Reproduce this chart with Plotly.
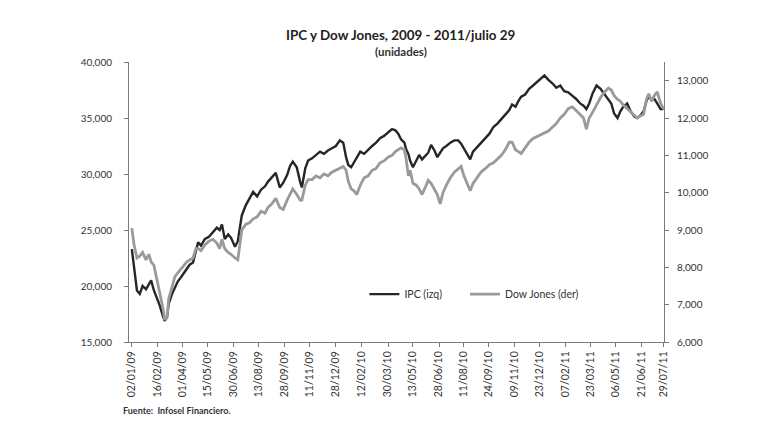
import plotly.graph_objects as go

# ---- data ----
fechas = [
    "2009-01-02", "2009-01-06", "2009-01-11", "2009-01-16", "2009-01-21", "2009-01-27", "2009-02-01",
    "2009-02-05", "2009-02-10", "2009-02-15", "2009-02-20", "2009-02-26", "2009-03-01", "2009-03-05",
    "2009-03-08", "2009-03-14", "2009-03-19", "2009-03-24", "2009-03-30", "2009-04-04", "2009-04-09",
    "2009-04-14", "2009-04-20", "2009-04-25", "2009-04-29", "2009-05-04", "2009-05-11", "2009-05-18",
    "2009-05-25", "2009-06-01", "2009-06-06", "2009-06-10", "2009-06-15", "2009-06-21", "2009-06-26",
    "2009-07-03", "2009-07-08", "2009-07-15", "2009-07-22", "2009-07-29", "2009-08-04", "2009-08-11",
    "2009-08-18", "2009-08-25", "2009-08-30", "2009-09-06", "2009-09-13", "2009-09-20", "2009-09-26",
    "2009-10-03", "2009-10-08", "2009-10-13", "2009-10-20", "2009-10-26", "2009-10-29", "2009-11-04",
    "2009-11-09", "2009-11-16", "2009-11-23", "2009-11-30", "2009-12-07", "2009-12-14", "2009-12-21",
    "2009-12-28", "2010-01-04", "2010-01-10", "2010-01-15", "2010-01-19", "2010-01-24", "2010-01-29",
    "2010-02-03", "2010-02-09", "2010-02-16", "2010-02-23", "2010-03-02", "2010-03-09", "2010-03-16",
    "2010-03-23", "2010-03-30", "2010-04-06", "2010-04-12", "2010-04-17", "2010-04-22", "2010-04-28",
    "2010-05-01", "2010-05-05", "2010-05-08", "2010-05-13", "2010-05-19", "2010-05-24", "2010-05-29",
    "2010-06-04", "2010-06-09", "2010-06-14", "2010-06-20", "2010-06-25", "2010-06-30", "2010-07-05",
    "2010-07-11", "2010-07-18", "2010-07-25", "2010-08-01", "2010-08-06", "2010-08-11", "2010-08-17",
    "2010-08-22", "2010-08-27", "2010-09-03", "2010-09-10", "2010-09-18", "2010-09-25", "2010-10-02",
    "2010-10-09", "2010-10-16", "2010-10-23", "2010-10-30", "2010-11-04", "2010-11-10", "2010-11-15",
    "2010-11-20", "2010-11-27", "2010-12-04", "2010-12-11", "2010-12-18", "2010-12-25", "2010-12-31",
    "2011-01-07", "2011-01-14", "2011-01-21", "2011-01-28", "2011-02-04", "2011-02-11", "2011-02-18",
    "2011-02-25", "2011-03-04", "2011-03-10", "2011-03-15", "2011-03-20", "2011-03-26", "2011-04-02",
    "2011-04-09", "2011-04-16", "2011-04-23", "2011-04-28", "2011-05-03", "2011-05-09", "2011-05-14",
    "2011-05-19", "2011-05-26", "2011-06-01", "2011-06-08", "2011-06-13", "2011-06-18", "2011-06-24",
    "2011-06-29", "2011-07-03", "2011-07-08", "2011-07-13", "2011-07-18", "2011-07-24", "2011-07-29",
]

ipc = [
    23300, 21800, 19600, 19300, 20000, 19700, 20200,
    20500, 19600, 19000, 18300, 17300, 16900, 17200,
    18400, 19300, 19800, 20400, 20800, 21200, 21500,
    21900, 22100, 23000, 23900, 23600, 24200, 24400,
    24800, 25200, 25000, 25500, 24200, 24600, 24300,
    23500, 24000, 26300, 27200, 27900, 28400, 28000,
    28600, 28900, 29300, 29700, 30100, 28800, 29200,
    29900, 30700, 31100, 30600, 29300, 28800, 30500,
    31200, 31400, 31700, 32000, 31800, 32100, 32300,
    32500, 33000, 32800, 31500, 30800, 30600, 31000,
    31500, 32000, 31800, 32200, 32500, 32800, 33200,
    33400, 33700, 34000, 33900, 33600, 33100, 32800,
    32200, 31800, 31200, 30600, 31200, 31700, 31300,
    31600, 31900, 32600, 32100, 31500, 31900, 32300,
    32500, 32800, 33000, 33000, 32700, 32300, 31800,
    31300, 32000, 32400, 32800, 33200, 33600, 34200,
    34500, 34900, 35300, 35700, 36200, 36000, 36500,
    36900, 37100, 37600, 37900, 38200, 38500, 38800,
    38400, 38100, 37700, 37900, 37400, 37300, 37000,
    36700, 36300, 36100, 35800, 36300, 37200, 37900,
    37600, 37100, 36700, 36300, 35400, 35000, 35600,
    36000, 36300, 35600, 35100, 35000, 35200, 35600,
    36500, 37000, 36600, 36700, 36300, 35800, 35800,
]

dow = [
    9050, 8600, 8250, 8300, 8400, 8200, 8350,
    8150, 8050, 7700, 7400, 6900, 6600, 6650,
    7150, 7500, 7750, 7850, 7950, 8050, 8150,
    8200, 8250, 8500, 8500, 8450, 8600, 8700,
    8750, 8650, 8500, 8750, 8500, 8400, 8350,
    8250, 8200, 9000, 9150, 9200, 9300, 9350,
    9500, 9450, 9600, 9700, 9850, 9600, 9550,
    9800, 9950, 10100, 9950, 9800, 9800, 10200,
    10350, 10350, 10450, 10400, 10500, 10450, 10550,
    10600, 10650, 10700, 10600, 10300, 10100, 10050,
    9950, 10200, 10400, 10450, 10600, 10650, 10800,
    10850, 10950, 11000, 11100, 11150, 11200, 11150,
    10900, 10450, 10600, 10250, 10200, 10100, 9950,
    10150, 10330, 10250, 10100, 9950, 9700, 10000,
    10200, 10400, 10550, 10650, 10700, 10450, 10250,
    10050, 10250, 10400, 10550, 10650, 10750, 10800,
    10900, 11000, 11150, 11350, 11350, 11150, 11100,
    11050, 11200, 11350, 11450, 11500, 11550, 11600,
    11650, 11750, 11850, 12000, 12100, 12250, 12300,
    12200, 12100, 12000, 11700, 12000, 12150, 12350,
    12550, 12700, 12800, 12750, 12600, 12500, 12450,
    12350, 12250, 12150, 12050, 12000, 12050, 12100,
    12500, 12650, 12450, 12600, 12700, 12400, 12250,
]

etiquetas_x = [
    "2009-01-02", "2009-02-16", "2009-04-01", "2009-05-15", "2009-06-30", "2009-08-13",
    "2009-09-28", "2009-11-11", "2009-12-28", "2010-02-12", "2010-03-30", "2010-05-13",
    "2010-06-28", "2010-08-11", "2010-09-24", "2010-11-09", "2010-12-23", "2011-02-07",
    "2011-03-23", "2011-05-06", "2011-06-21", "2011-07-29",
]
ticks_izq = [15000, 20000, 25000, 30000, 35000, 40000]
ticks_der = [6000, 7000, 8000, 9000, 10000, 11000, 12000, 13000]

FONT = "Lato"
TXT = "#333333"
AXC = "#7a7a7a"

fig = go.Figure()
fig.add_trace(go.Scatter(x=fechas, y=ipc, name="IPC (izq)", mode="lines",
                         line=dict(color="#262626", width=2.4), legend="legend"))
fig.add_trace(go.Scatter(x=fechas, y=dow, name="Dow Jones (der)", mode="lines",
                         line=dict(color="#9a9a9a", width=2.8), yaxis="y2", legend="legend2"))

leg_common = dict(orientation="h", xanchor="left", yanchor="middle", y=0.171,
                  bgcolor="rgba(0,0,0,0)", font=dict(family=FONT, size=10.5, color=TXT),
                  itemwidth=30)

fig.update_layout(
    width=763, height=415,
    margin=dict(l=121, r=107, t=54, b=81),
    paper_bgcolor="white", plot_bgcolor="white",
    font=dict(family=FONT, size=11, color=TXT),
    showlegend=True,
    legend=dict(x=0.44, **leg_common),
    legend2=dict(x=0.628, **leg_common),
    xaxis=dict(type="date", range=["2008-12-28", "2011-07-30"],
               tickvals=etiquetas_x, tickformat="%d/%m/%y", tickangle=-90,
               showline=True, linecolor=AXC, linewidth=1, mirror=False,
               ticks="outside", ticklen=4, tickcolor=AXC, showgrid=False, zeroline=False,
               tickfont=dict(size=10.5, color=TXT)),
    yaxis=dict(range=[15000, 40000], tickvals=ticks_izq, tickformat=",",
               showline=True, linecolor=AXC, linewidth=1, ticks="outside", ticklen=4,
               tickcolor=AXC, showgrid=False, zeroline=False, ticklabelstandoff=10,
               tickfont=dict(size=10, color=TXT)),
    yaxis2=dict(range=[6000, 13500], tickvals=ticks_der, tickformat=",", overlaying="y",
                side="right", showline=True, linecolor=AXC, linewidth=1, ticks="outside",
                ticklen=4, tickcolor=AXC, showgrid=False, zeroline=False, ticklabelstandoff=6,
                tickfont=dict(size=10, color=TXT)),
    annotations=[
        dict(text="<b>IPC y Dow Jones, 2009 - 2011/julio 29</b>", xref="paper", yref="paper",
             x=0.508, y=1.096, xanchor="center", yanchor="middle", showarrow=False,
             font=dict(family=FONT, size=13.4, color="#222222")),
        dict(text="<b>(unidades)</b>", xref="paper", yref="paper",
             x=0.508, y=1.036, xanchor="center", yanchor="middle", showarrow=False,
             font=dict(family=FONT, size=11.5, color="#333333")),
        dict(text="<b>Fuente:  Infosel Financiero.</b>", xref="paper", yref="paper",
             x=-0.015, y=-0.243, xanchor="left", yanchor="middle", showarrow=False,
             font=dict(family=FONT, size=9, color="#333333")),
    ],
)

fig.write_html("out.html")
